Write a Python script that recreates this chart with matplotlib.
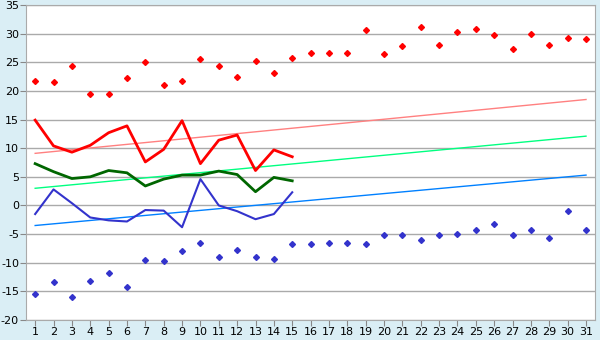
import numpy as np
import matplotlib
matplotlib.use("Agg")
import matplotlib.pyplot as plt

plt.rcParams["axes.unicode_minus"] = False

# days of the month
days = list(range(1, 32))
line_days = list(range(1, 16))

# daily extremes (diamonds)
max_temp = [21.8, 21.5, 24.4, 19.5, 19.5, 22.2, 25.0, 21.1, 21.8, 25.5,
            24.3, 22.5, 25.2, 23.1, 25.7, 26.6, 26.6, 26.7, 30.7, 26.4,
            27.8, 31.1, 28.1, 30.2, 30.8, 29.7, 27.4, 30.0, 28.1, 29.3, 29.0]
min_temp = [-15.5, -13.4, -16.0, -13.2, -11.8, -14.3, -9.6, -9.7, -8.0, -6.5,
            -9.0, -7.8, -9.0, -9.4, -6.8, -6.8, -6.5, -6.5, -6.8, -5.2,
            -5.2, -6.1, -5.2, -5.0, -4.2, -3.3, -5.2, -4.3, -5.7, -1.0, -4.3]

# observed values, first half of the month
obs_max = [14.9, 10.4, 9.3, 10.5, 12.7, 13.9, 7.6, 9.8, 14.8, 7.3,
           11.4, 12.3, 6.1, 9.7, 8.5]
obs_mean = [7.3, 5.9, 4.7, 5.0, 6.1, 5.7, 3.4, 4.6, 5.3, 5.3,
            6.0, 5.4, 2.4, 4.9, 4.3]
obs_min = [-1.5, 2.8, 0.4, -2.1, -2.6, -2.8, -0.8, -0.9, -3.8, 4.6,
           0.0, -1.0, -2.4, -1.5, 2.3]

# normals at first and last day
norm_max = [9.1, 18.5]
norm_mean = [3.0, 12.1]
norm_min = [-3.5, 5.3]

bg = "#daeef5"
fig = plt.figure(figsize=(6, 3.4), dpi=100, facecolor=bg)
ax = fig.add_axes([0.0433, 0.0588, 0.9487, 0.9265])
ax.set_facecolor("white")

ends = [days[0], days[-1]]
ax.plot(ends, norm_max, color="#ff8080", lw=1)
ax.plot(ends, norm_mean, color="#00ff80", lw=1)
ax.plot(ends, norm_min, color="#0080ff", lw=1)

ax.plot(line_days, obs_max, color="#ff0000", lw=2)
ax.plot(line_days, obs_mean, color="#006600", lw=2)
ax.plot(line_days, obs_min, color="#3333cc", lw=1.5)

ax.plot(days, max_temp, ls="none", marker="D", ms=3, color="#ff0000")
ax.plot(days, min_temp, ls="none", marker="D", ms=3, color="#3333cc")

ax.set_xlim(0.5, 31.5)
ax.set_ylim(-20, 35)
ax.set_xticks(days)
ax.set_yticks(np.arange(-20, 36, 5))
ax.yaxis.grid(True, color="#aaaaaa", lw=1)
ax.set_axisbelow(True)
for s in ax.spines.values():
    s.set_color("#aaaaaa")
ax.tick_params(colors="#888888", labelcolor="black", labelsize=8, length=4)
ax.tick_params(axis="x", pad=1)
ax.tick_params(axis="y", pad=1)

fig.savefig("out.png", dpi=100, facecolor=bg)
